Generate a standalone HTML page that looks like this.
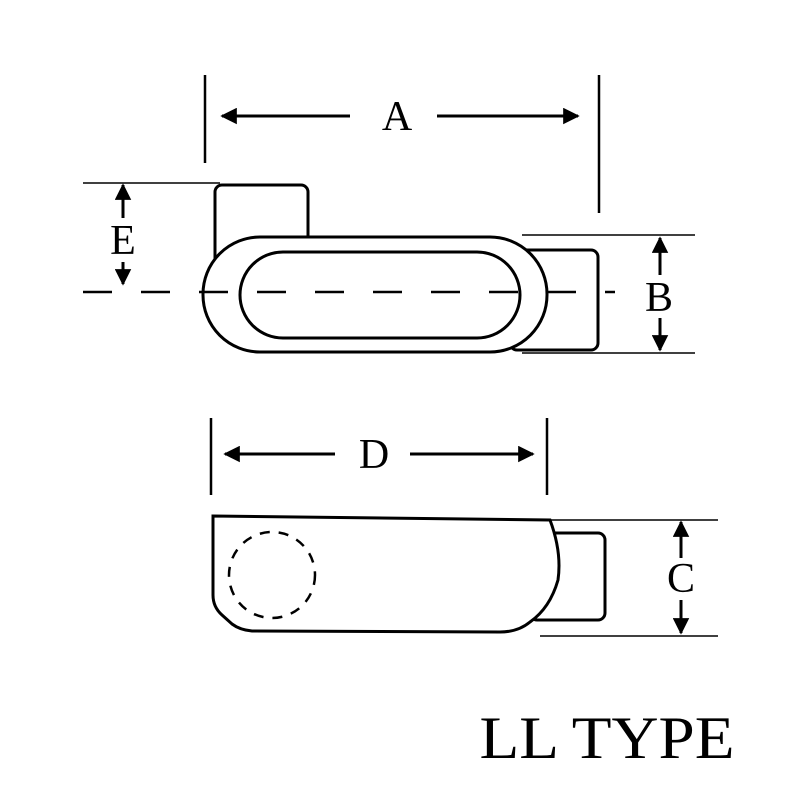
<!DOCTYPE html>
<html><head><style>body{margin:0;background:#fff}svg{display:block}</style></head><body>
<svg width="800" height="800" viewBox="0 0 800 800" xmlns="http://www.w3.org/2000/svg">
<defs><marker id="ar" viewBox="0 0 10 10" refX="9" refY="5" markerWidth="5.5" markerHeight="5.5" orient="auto-start-reverse"><path d="M0,0L10,5L0,10z" fill="#000"/></marker></defs>
<g fill="none" stroke="#000" stroke-width="3">
<rect x="215" y="185" width="93" height="80" rx="7" fill="#fff"/>
<rect x="510" y="250" width="88" height="100" rx="7" fill="#fff"/>
<rect x="203" y="237" width="344" height="115" rx="57" fill="#fff"/>
<rect x="240" y="252" width="280" height="86" rx="43"/>
<line x1="83" y1="292" x2="615" y2="292" stroke-dasharray="29,29" stroke-width="2.5"/>
<g stroke-width="1.5">
<line x1="83" y1="183" x2="220" y2="183"/>
<line x1="522" y1="235" x2="695" y2="235"/>
<line x1="522" y1="353" x2="695" y2="353"/>
<line x1="548" y1="520" x2="718" y2="520"/>
<line x1="540" y1="636" x2="718" y2="636"/>
</g>
<g stroke-width="2.5">
<line x1="205" y1="75" x2="205" y2="163"/>
<line x1="599" y1="75" x2="599" y2="213"/>
<line x1="211" y1="418" x2="211" y2="495"/>
<line x1="547" y1="418" x2="547" y2="495"/>
</g>
<g stroke-width="3" marker-end="url(#ar)">
<line x1="350" y1="116" x2="222" y2="116"/>
<line x1="437" y1="116" x2="578" y2="116"/>
<line x1="123" y1="218" x2="123" y2="185"/>
<line x1="123" y1="262" x2="123" y2="284"/>
<line x1="660" y1="275" x2="660" y2="238"/>
<line x1="660" y1="318" x2="660" y2="350"/>
<line x1="335" y1="454" x2="225" y2="454"/>
<line x1="410" y1="454" x2="533" y2="454"/>
<line x1="681" y1="558" x2="681" y2="522"/>
<line x1="681" y1="600" x2="681" y2="633"/>
</g>
<rect x="530" y="533" width="75" height="87" rx="7" fill="#fff"/>
<path d="M213,516 L550,520 Q562,552 558,580 Q550,608 530,622 Q518,632 500,632 L252,631 Q240,630 232,624 L222,615 Q213,607 213,595 Z" fill="#fff"/>
<circle cx="272" cy="575" r="43" stroke-dasharray="10,9" stroke-width="2.5"/>
</g>
<g font-family="Liberation Serif, serif" fill="#000" text-anchor="middle">
<text x="397" y="130" font-size="42">A</text>
<text x="123" y="254" font-size="42">E</text>
<text x="659" y="311" font-size="42">B</text>
<text x="374" y="468" font-size="42">D</text>
<text x="681" y="592" font-size="42">C</text>
<text x="607" y="758" font-size="60" textLength="255" lengthAdjust="spacingAndGlyphs">LL TYPE</text>
</g>
</svg>
</body></html>
